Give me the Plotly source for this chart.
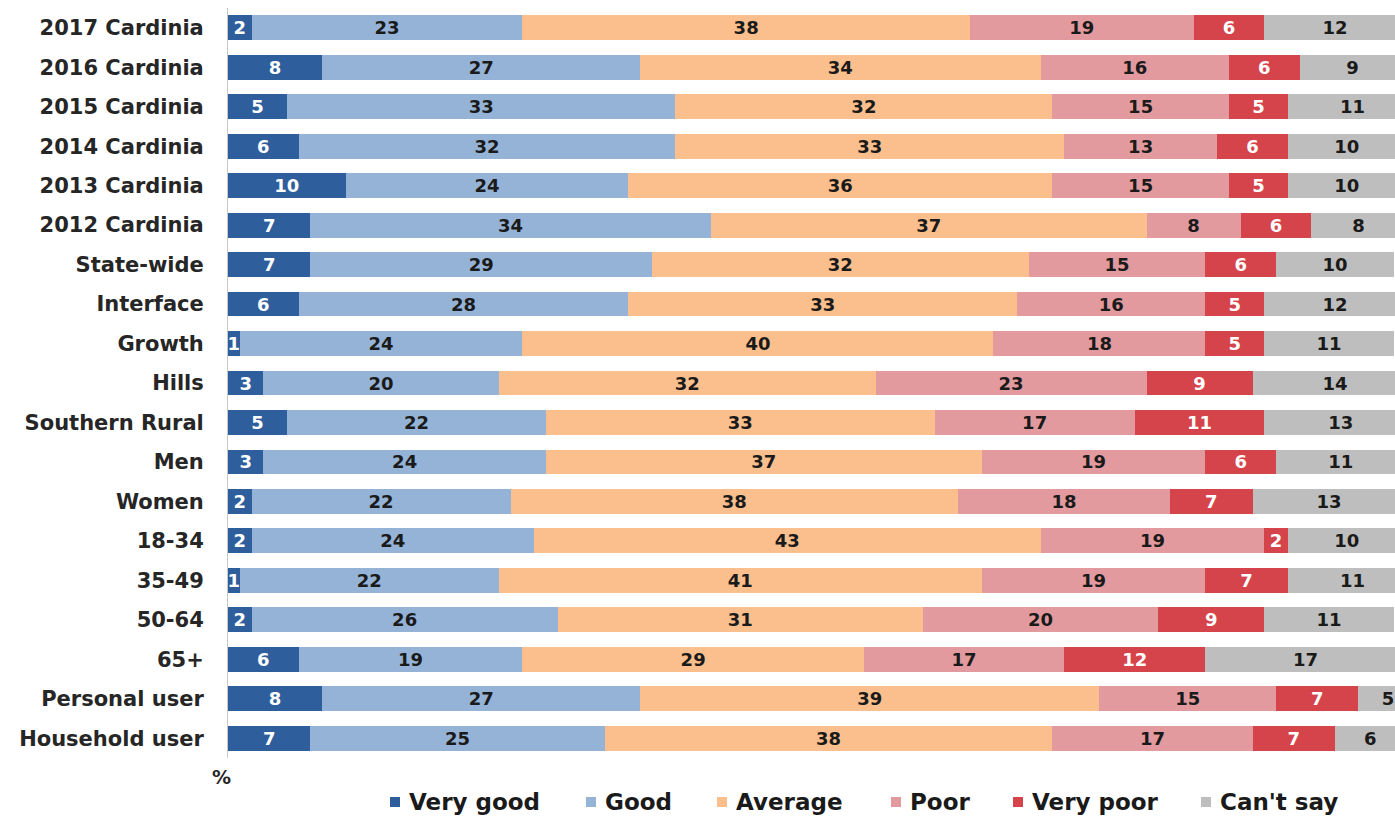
import plotly.graph_objects as go

# Rows, top to bottom
groups = [
    "2017 Cardinia", "2016 Cardinia", "2015 Cardinia", "2014 Cardinia",
    "2013 Cardinia", "2012 Cardinia", "State-wide", "Interface", "Growth",
    "Hills", "Southern Rural", "Men", "Women", "18-34", "35-49", "50-64",
    "65+", "Personal user", "Household user",
]

very_good = [2, 8, 5, 6, 10, 7, 7, 6, 1, 3, 5, 3, 2, 2, 1, 2, 6, 8, 7]
good = [23, 27, 33, 32, 24, 34, 29, 28, 24, 20, 22, 24, 22, 24, 22, 26, 19, 27, 25]
average = [38, 34, 32, 33, 36, 37, 32, 33, 40, 32, 33, 37, 38, 43, 41, 31, 29, 39, 38]
poor = [19, 16, 15, 13, 15, 8, 15, 16, 18, 23, 17, 19, 18, 19, 19, 20, 17, 15, 17]
very_poor = [6, 6, 5, 6, 5, 6, 6, 5, 5, 9, 11, 6, 7, 2, 7, 9, 12, 7, 7]
cant_say = [12, 9, 11, 10, 10, 8, 10, 12, 11, 14, 13, 11, 13, 10, 11, 11, 17, 5, 6]

series = [
    ("Very good", very_good, "#2F5E9D", "white"),
    ("Good", good, "#95B3D7", "#1A1A1A"),
    ("Average", average, "#FBBF8E", "#1A1A1A"),
    ("Poor", poor, "#E39A9F", "#1A1A1A"),
    ("Very poor", very_poor, "#D5434B", "white"),
    ("Can't say", cant_say, "#BEBEBE", "#1A1A1A"),
]

FONT = "DejaVu Sans"

fig = go.Figure()
for name, vals, color, tcolor in series:
    fig.add_trace(go.Bar(
        name=name,
        y=groups,
        x=vals,
        orientation="h",
        marker=dict(color=color, line=dict(width=0)),
        text=[str(v) for v in vals],
        textposition="inside",
        insidetextanchor="middle",
        textangle=0,
        constraintext="none",
        textfont=dict(family=FONT, size=18, color=tcolor, weight="bold"),
        showlegend=False,
        hoverinfo="x+y+name",
    ))

# Plot area geometry in pixels
W, H = 1395, 816
L, R, T, B = 228, 0, 8, 58
pw, ph = W - L - R, H - T - B


def px_x(x):
    return (x - L) / pw


def px_y(y):
    return (H - B - y) / ph


annotations = [
    dict(text="<b>%</b>", x=px_x(221), y=px_y(777), xref="paper", yref="paper",
         showarrow=False, font=dict(family=FONT, size=19, color="#262626"),
         xanchor="center", yanchor="middle"),
]
shapes = []

# Legend row beneath the bars
legend_marks = [395, 591, 722, 896, 1018, 1206]
for (name, _, color, _), mx in zip(series, legend_marks):
    shapes.append(dict(
        type="rect", xref="paper", yref="paper",
        x0=px_x(mx - 5), x1=px_x(mx + 5), y0=px_y(807), y1=px_y(797),
        fillcolor=color, line=dict(width=0),
    ))
    annotations.append(dict(
        text="<b>" + name + "</b>", x=px_x(mx + 12), y=px_y(802),
        xref="paper", yref="paper", showarrow=False,
        xanchor="left", yanchor="middle",
        font=dict(family=FONT, size=23, color="#1A1A1A"),
    ))

fig.update_layout(
    barmode="stack",
    bargap=0.37,
    width=W, height=H,
    margin=dict(l=L, r=R, t=T, b=B, pad=0),
    paper_bgcolor="white",
    plot_bgcolor="white",
    font=dict(family=FONT, color="#262626"),
    xaxis=dict(range=[0, 99.1], showticklabels=False, showgrid=False,
               zeroline=False, showline=False, ticks=""),
    yaxis=dict(categoryorder="array", categoryarray=groups,
               autorange="reversed", showgrid=False, zeroline=False,
               showline=True, linecolor="#C8C8C8", linewidth=1,
               ticks="", ticklabelstandoff=19,
               tickfont=dict(family=FONT, size=21, color="#262626",
                             weight="bold")),
    annotations=annotations,
    shapes=shapes,
)

fig.write_html("out.html")
